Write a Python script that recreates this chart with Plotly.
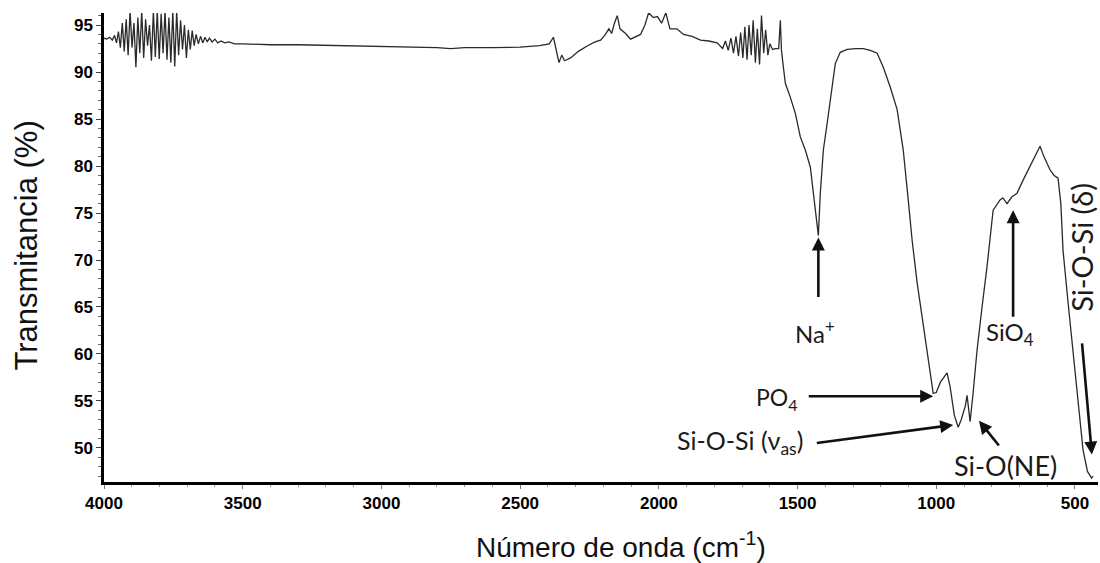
import plotly.graph_objects as go

# Wavenumber (cm-1) and transmittance (%)
wavenumber = [
    4000, 3990, 3980, 3970, 3962, 3955, 3948, 3941, 3934, 3927, 3920, 3913, 3906, 3899, 3892,
    3885, 3878, 3871, 3864, 3857, 3850, 3843, 3836, 3829, 3822, 3815, 3808, 3801, 3794, 3787,
    3780, 3773, 3766, 3759, 3752, 3745, 3738, 3731, 3724, 3717, 3710, 3703, 3696, 3689, 3682,
    3675, 3668, 3660, 3652, 3644, 3636, 3628, 3620, 3610, 3600, 3590, 3578, 3565, 3550, 3530,
    3500, 3450, 3400, 3300, 3200, 3100, 3000, 2900, 2800, 2750, 2700, 2600, 2500, 2430, 2395,
    2380, 2370, 2360, 2350, 2340, 2318, 2290, 2257, 2230, 2210, 2195, 2180, 2170, 2160, 2150,
    2140, 2120, 2102, 2085, 2066, 2050, 2037, 2020, 2005, 1990, 1975, 1960, 1935, 1911, 1880,
    1850, 1820, 1790, 1770, 1760, 1750, 1740, 1731, 1722, 1713, 1705, 1697, 1690, 1682, 1675,
    1667, 1660, 1652, 1645, 1637, 1630, 1622, 1615, 1607, 1600, 1590, 1580, 1568, 1562, 1558,
    1551, 1544, 1526, 1508, 1490, 1472, 1454, 1443, 1425, 1418, 1407, 1393, 1375, 1364, 1346,
    1321, 1290, 1263, 1238, 1213, 1191, 1166, 1141, 1119, 1101, 1087, 1069, 1033, 1015, 1011,
    1000, 985, 961, 950, 935, 921, 910, 895, 889, 884, 878, 867, 853, 835, 817,
    795, 770, 760, 745, 728, 709, 687, 665, 651, 640, 626, 612, 590, 575, 561,
    551, 543, 525, 507, 490, 471, 455, 446, 440, 435,
]
transmittance = [
    93.6, 93.5, 93.7, 93.4, 93.9, 93.1, 94.3, 92.6, 95.2, 92.2, 95.6, 91.8, 96.5, 92.6, 95.2,
    90.5, 95.8, 92.0, 96.5, 91.5, 95.6, 92.8, 95.0, 91.2, 96.5, 91.6, 96.5, 91.4, 96.2, 92.0,
    96.5, 91.3, 95.8, 91.0, 96.5, 90.6, 96.5, 91.8, 95.5, 92.4, 95.0, 91.5, 94.5, 92.4, 94.4,
    92.8, 94.0, 93.0, 93.8, 93.1, 93.7, 93.2, 93.6, 93.2, 93.5, 93.1, 93.3, 93.1, 93.2, 93.0,
    93.0, 92.95, 92.9, 92.9, 92.85, 92.8, 92.75, 92.7, 92.6, 92.5, 92.6, 92.6, 92.65, 92.8, 93.0,
    93.7, 92.5, 91.0, 91.8, 91.2, 91.5, 92.2, 92.8, 93.2, 93.4, 93.9, 94.6, 94.1, 95.2, 96.0,
    94.6, 94.1, 93.5, 93.7, 94.0, 95.0, 96.3, 95.8, 95.9, 95.2, 96.3, 94.6, 94.6, 94.0, 93.8,
    93.4, 93.3, 93.1, 92.5, 93.3, 92.3, 93.6, 92.0, 93.8, 91.7, 94.2, 91.5, 94.8, 91.3, 95.0,
    91.8, 95.5, 91.0, 94.6, 90.8, 96.0, 92.0, 94.5, 91.8, 93.0, 92.4, 92.5, 92.5, 95.5, 92.3,
    90.5, 88.8, 87.3, 85.6, 83.1, 81.7, 79.9, 77.1, 72.6, 77.1, 81.7, 84.6, 88.4, 90.9, 92.1,
    92.4, 92.5, 92.5, 92.3, 92.0, 90.5, 88.4, 86.0, 81.7, 76.4, 72.1, 67.6, 60.4, 56.9, 55.8,
    55.9, 57.0, 58.0, 56.5, 53.5, 52.2, 53.0, 54.5, 55.6, 54.0, 52.8, 55.9, 60.4, 65.0, 69.3,
    75.3, 76.4, 76.6, 76.0, 76.7, 77.1, 78.5, 79.8, 80.6, 81.4, 82.1, 81.0, 79.6, 79.0, 78.7,
    76.0, 71.0, 65.5, 60.4, 55.0, 49.8, 47.5, 47.1, 46.8, 47.0,
]

x_ticks = [4000, 3500, 3000, 2500, 2000, 1500, 1000, 500]
y_ticks = [50, 55, 60, 65, 70, 75, 80, 85, 90, 95]

x_title = "Número de onda (cm<sup>-1</sup>)"
y_title = "Transmitancia (%)"

# Band labels: (text, text_x, text_y, tail_x, tail_y, head_x, head_y, angle, size)
bands = [
    ("Na<sup>+</sup>", 1436, 62.3, 1425, 65.9, 1425, 72.4, 0, 24),
    ("SiO<sub>4</sub>", 734, 62.2, 723, 63.8, 723, 75.3, 0, 24),
    ("Si-O-Si (δ)", 475, 71.4, 475, 61.3, 439, 49.3, -90, 29),
    ("PO<sub>4</sub>", 1573, 55.3, 1465, 55.5, 1011, 55.5, 0, 23),
    ("Si-O-Si (ν<sub>as</sub>)", 1706, 50.6, 1436, 50.5, 939, 52.45, 0, 25),
    ("Si-O(NE)", 752, 48.1, 770, 50.1, 846, 52.9, 0, 27),
]

fig = go.Figure()
fig.add_trace(go.Scatter(
    x=wavenumber, y=transmittance, mode="lines",
    line=dict(color="#2a2a2a", width=1.3),
    showlegend=False, hoverinfo="skip",
))

tick_font = dict(family="Liberation Sans, Arial, sans-serif", size=17, color="black", weight="bold")

fig.update_xaxes(
    range=[4000, 417], tickmode="array", tickvals=x_ticks, ticktext=[str(v) for v in x_ticks],
    showline=True, linecolor="black", linewidth=2.5, mirror=False,
    ticks="outside", ticklen=4, tickwidth=1, tickcolor="#777",
    minor=dict(dtick=100, ticks="outside", ticklen=2, tickcolor="#999", showgrid=False),
    showgrid=False, zeroline=False, tickfont=tick_font,
)
fig.update_yaxes(
    range=[46.38, 96.28], tickmode="array", tickvals=y_ticks, ticktext=[str(v) for v in y_ticks],
    showline=True, linecolor="black", linewidth=2.5, mirror=False,
    ticks="outside", ticklen=5, tickwidth=1, tickcolor="#444",
    minor=dict(dtick=1, ticks="outside", ticklen=3, tickcolor="#666", showgrid=False),
    showgrid=False, zeroline=False, tickfont=tick_font,
)

for text, tx, ty, ax, ay, hx, hy, ang, size in bands:
    fig.add_annotation(
        x=hx, y=hy, ax=ax, ay=ay, xref="x", yref="y", axref="x", ayref="y",
        text="", showarrow=True, arrowhead=2, arrowsize=1.0, arrowwidth=2.6,
        arrowcolor="#111",
    )
    fig.add_annotation(
        x=tx, y=ty, xref="x", yref="y", text=text, showarrow=False,
        font=dict(family="Lato, Open Sans, sans-serif", size=size, color="#1a1a1a"),
        textangle=ang, xanchor="center", yanchor="middle",
    )

fig.add_annotation(
    x=0.52, y=-0.134, xref="paper", yref="paper", text=x_title, showarrow=False,
    font=dict(family="Liberation Sans, Arial, sans-serif", size=28, color="#111"),
    xanchor="center", yanchor="middle",
)
fig.add_annotation(
    x=-0.078, y=0.505, xref="paper", yref="paper", text=y_title, showarrow=False,
    textangle=-90,
    font=dict(family="Liberation Sans, Arial, sans-serif", size=31, color="#111"),
    xanchor="center", yanchor="middle",
)

fig.update_layout(
    width=1100, height=563,
    margin=dict(l=104, r=2, t=13, b=81),
    plot_bgcolor="white", paper_bgcolor="white",
)

fig.write_html("out.html")
